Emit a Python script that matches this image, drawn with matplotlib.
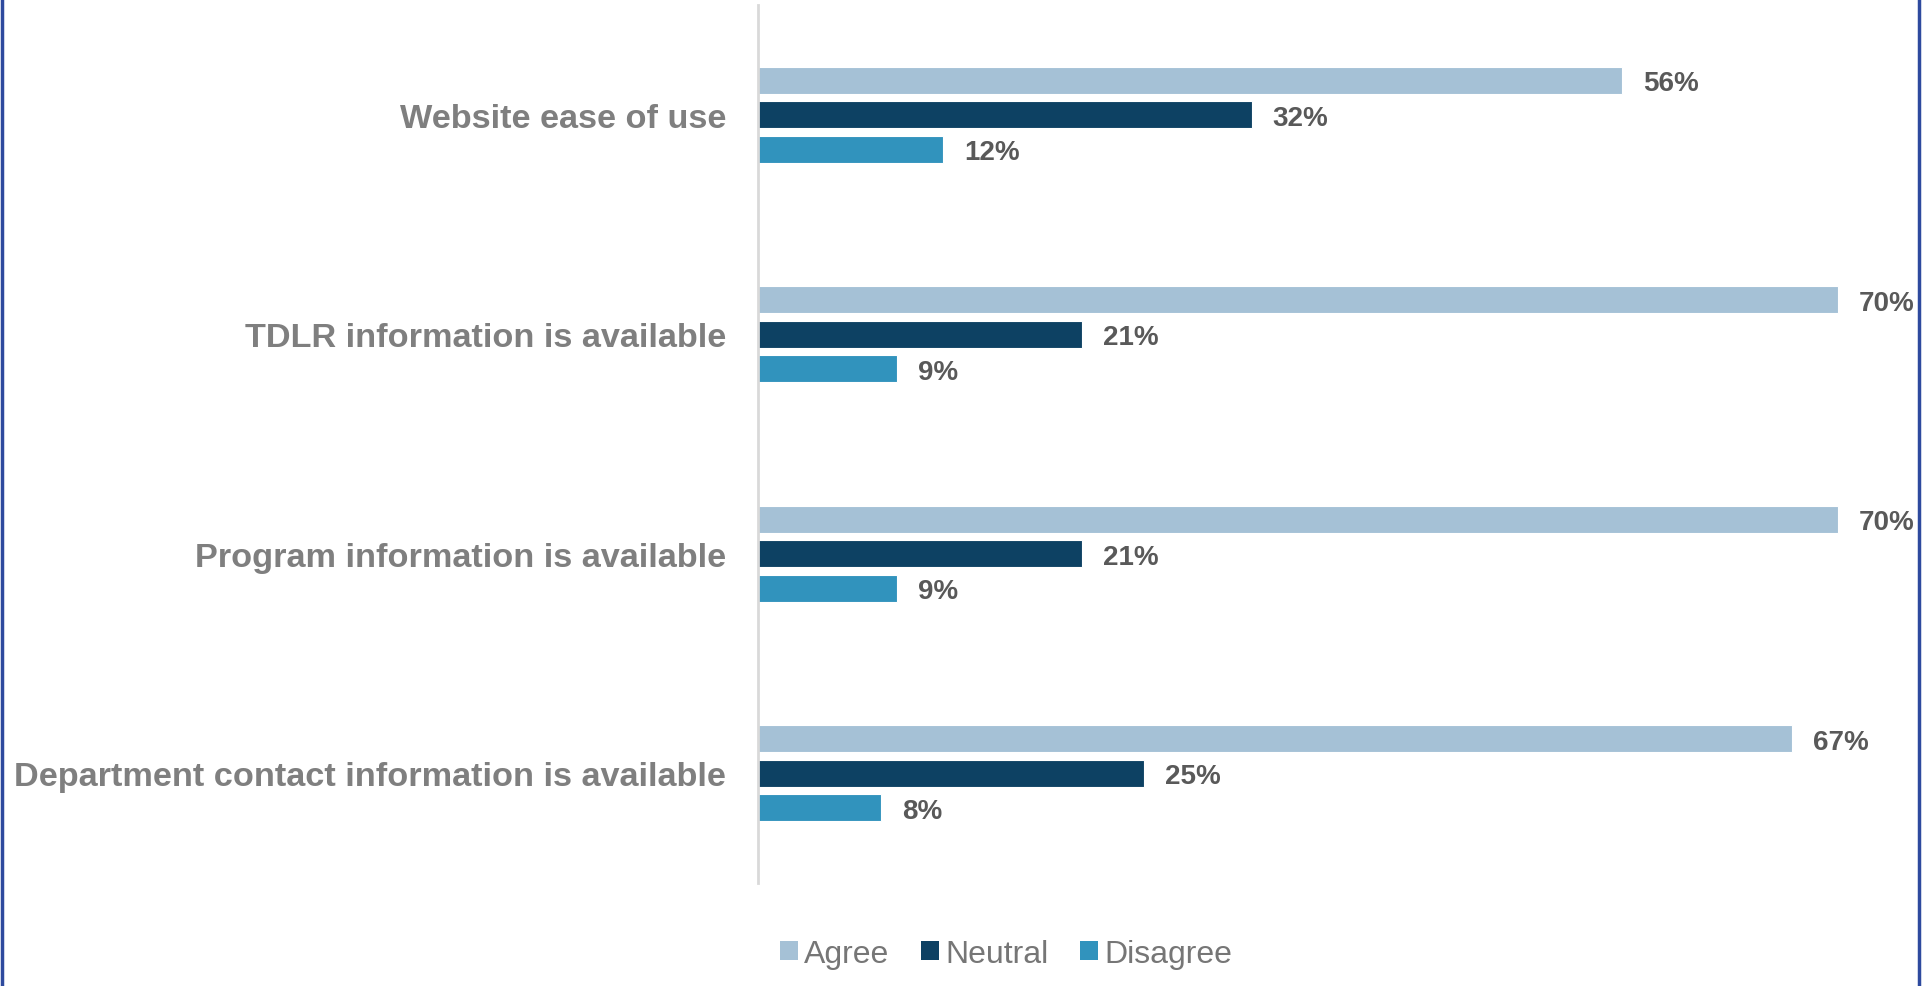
import numpy as np
import matplotlib.pyplot as plt
from matplotlib.patches import Patch

plt.rcParams["font.family"] = ["Liberation Sans", "DejaVu Sans"]

# Survey results (%)
categories = [
    "Website ease of use",
    "TDLR information is available",
    "Program information is available",
    "Department contact information is available",
]
series_names = ["Agree", "Neutral", "Disagree"]
agree = [56, 70, 70, 67]
neutral = [32, 21, 21, 25]
disagree = [12, 9, 9, 8]
colors = ["#A5C1D6", "#0D4163", "#3193BD"]

fig = plt.figure(figsize=(19.29, 9.87), dpi=100)
ax = fig.add_axes([758 / 1929, 1 - 884 / 987, 75 * 15.43 / 1929, 878 / 987])

y = np.arange(len(categories))
bar_h = 0.123
step = 0.157
for i, (vals, col) in enumerate(zip([agree, neutral, disagree], colors)):
    pos = y + (i - 1) * step
    ax.barh(pos, vals, height=bar_h, color=col, edgecolor="white", linewidth=0.8)
    for p, v in zip(pos, vals):
        ax.text(v + 1.35, p, f"{v}%", va="center_baseline", ha="left", fontsize=20,
                fontweight="bold", color="#595959")

ax.set_xlim(0, 75)
ax.set_ylim(len(categories) - 0.5, -0.5)
ax.set_yticks(y)
ax.set_yticklabels(categories, fontsize=24.7, fontweight="bold", color="#7F7F7F")
ax.tick_params(axis="y", length=0, pad=23)
ax.set_xticks([])
for s in ["top", "right", "bottom"]:
    ax.spines[s].set_visible(False)
ax.spines["left"].set_color("#D9D9D9")
ax.spines["left"].set_linewidth(2)

handles = [Patch(facecolor=c, edgecolor="none") for c in colors]
fig.legend(handles, series_names, loc="center", bbox_to_anchor=(1006 / 1929, 1 - 955 / 987),
           ncol=3, frameon=False, fontsize=23, labelcolor="#767676",
           handlelength=0.55, handleheight=0.55, handletextpad=0.2, columnspacing=1.0)

# blue frame on the sides
fig.add_artist(plt.Line2D([0.001, 0.001], [0, 1], color="#2E4A9E", linewidth=2.5))
fig.add_artist(plt.Line2D([1919 / 1929, 1919 / 1929], [0, 1], color="#2E4A9E", linewidth=2.5))

fig.savefig("out.png", dpi=100)
